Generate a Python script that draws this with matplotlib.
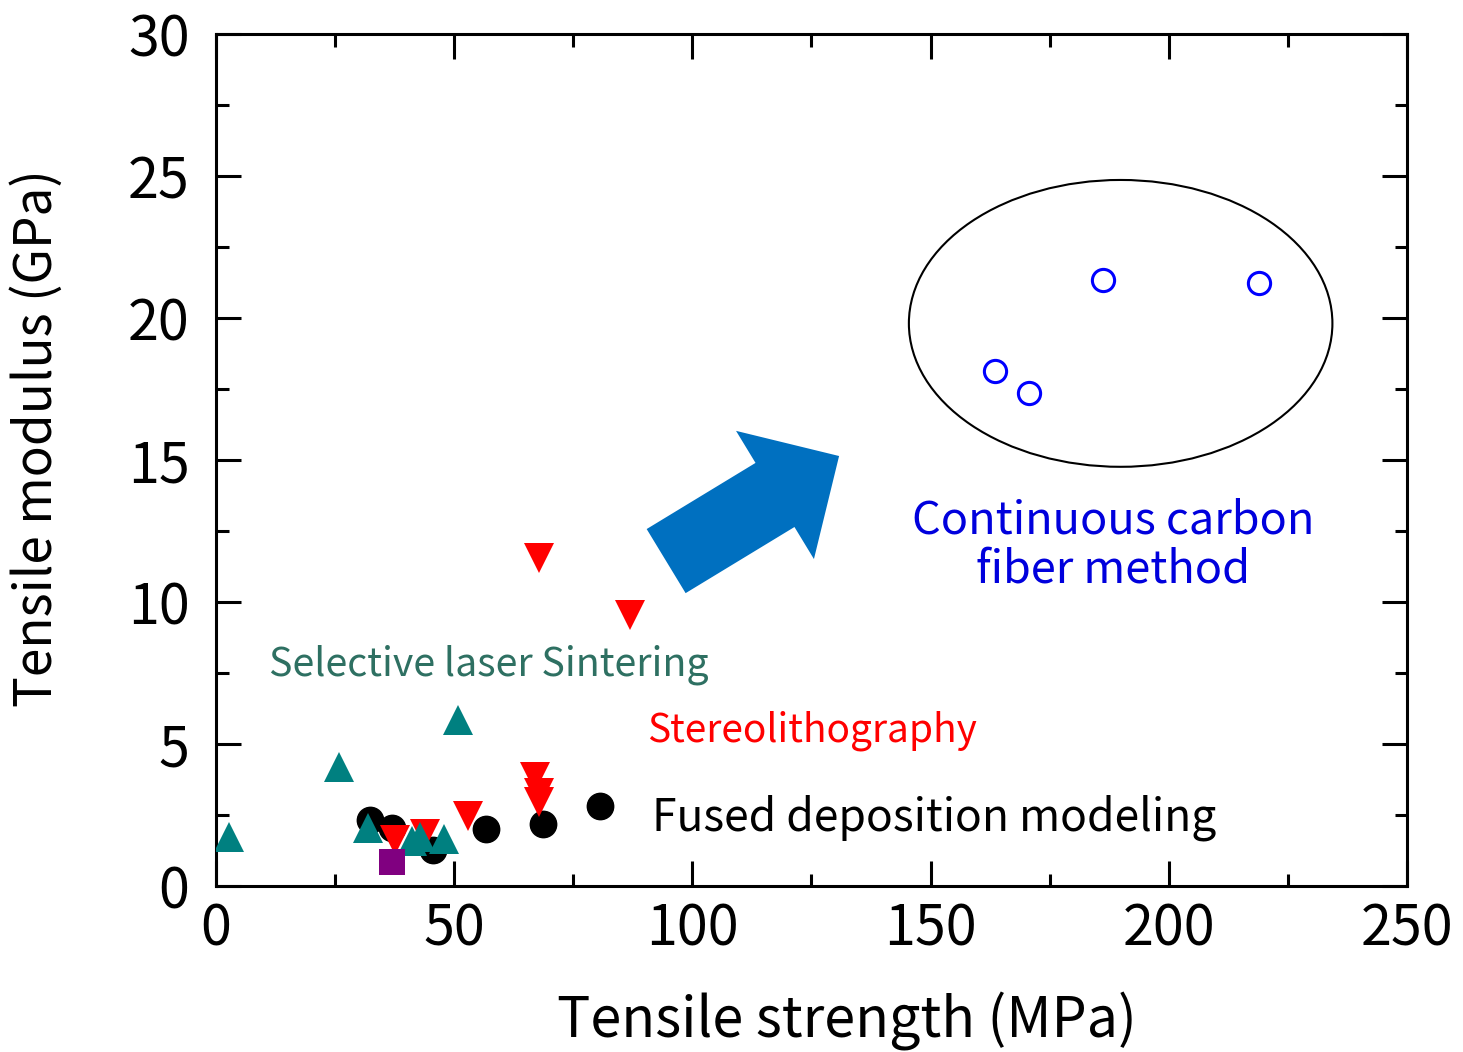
#!/usr/bin/env python
"""Tensile modulus vs tensile strength for 3D-printing processes."""
import matplotlib
matplotlib.use("Agg")
import matplotlib.pyplot as plt
from matplotlib.patches import Ellipse, FancyArrowPatch
from matplotlib.ticker import MultipleLocator

plt.rcParams["font.family"] = ["Noto Sans CJK JP", "DejaVu Sans"]

# Fused deposition modeling (black filled circles)
fdm_x = [32.3, 36.9, 45.6, 56.6, 68.6, 80.6]
fdm_y = [2.32, 2.03, 1.27, 2.00, 2.18, 2.82]

# Stereolithography (red down triangles)
sla_x = [37.6, 43.9, 53.0, 67.0, 67.9, 67.9, 67.9, 86.9]
sla_y = [1.62, 1.83, 2.46, 3.85, 3.26, 2.97, 11.54, 9.53]

# Selective laser sintering (teal up triangles)
sls_x = [2.7, 25.9, 50.9, 32.0, 41.1, 42.8, 47.9]
sls_y = [1.74, 4.20, 5.85, 2.04, 1.60, 1.73, 1.65]

# other (purple square)
other_x = [37.0]
other_y = [0.83]

# Continuous carbon fiber method (blue open circles)
ccf_x = [186.1, 218.9, 163.6, 170.6]
ccf_y = [21.34, 21.24, 18.13, 17.35]

fig = plt.figure(figsize=(14.63, 10.52), dpi=100)
ax = fig.add_axes([0.1476, 0.1578, 0.8141, 0.8099])

ax.plot(fdm_x, fdm_y, "o", color="black", markersize=19, linestyle="none", zorder=3)
ax.plot(sla_x, sla_y, "v", color="#ff0000", markersize=22, markeredgewidth=0,
        linestyle="none", zorder=4)
ax.plot(sls_x, sls_y, "^", color="#008080", markersize=22, markeredgewidth=0,
        linestyle="none", zorder=5)
ax.plot(other_x, other_y, "s", color="#800080", markersize=18.5, markeredgewidth=0,
        linestyle="none", zorder=6)
ax.plot(ccf_x, ccf_y, "o", markerfacecolor="none", markeredgecolor="#0000ff",
        markeredgewidth=2.2, markersize=16, linestyle="none", zorder=6)

ax.add_patch(Ellipse((189.9, 19.81), 88.9, 10.1, fill=False, edgecolor="black",
                     linewidth=1.5, zorder=2))

arrow = FancyArrowPatch((94.5, 11.44), (130.8, 15.14),
                        arrowstyle="simple,head_length=54,head_width=108,tail_width=54",
                        mutation_scale=1, shrinkA=0, shrinkB=0,
                        color="#0070c0", linewidth=0, zorder=2)
ax.add_patch(arrow)

ax.text(57.3, 7.78, "Selective laser Sintering", color="#2e7062", fontsize=28.3,
        ha="center", va="center")
ax.text(90.5, 5.46, "Stereolithography", color="#ff0000", fontsize=28,
        ha="left", va="center")
ax.text(91.5, 2.39, "Fused deposition modeling", color="black", fontsize=32,
        ha="left", va="center")
ax.text(188.3, 12.0, "Continuous carbon\nfiber method", color="#0000dd",
        fontsize=32.5, ha="center", va="center", linespacing=1.1)

ax.set_xlim(0, 250)
ax.set_ylim(0, 30)
ax.xaxis.set_major_locator(MultipleLocator(50))
ax.xaxis.set_minor_locator(MultipleLocator(25))
ax.yaxis.set_major_locator(MultipleLocator(5))
ax.yaxis.set_minor_locator(MultipleLocator(2.5))
ax.tick_params(which="both", direction="in", top=True, right=True, width=2.2,
               labelsize=40, colors="black")
ax.tick_params(which="major", length=18)
ax.tick_params(which="minor", length=9)
ax.tick_params(axis="x", pad=11)
ax.tick_params(axis="y", pad=19)
for sp in ax.spines.values():
    sp.set_linewidth(2.2)

ax.set_xlabel("Tensile strength (MPa)", fontsize=40)
ax.xaxis.set_label_coords(0.53, -0.124)
ax.set_ylabel("Tensile modulus (GPa)", fontsize=37)
ax.yaxis.set_label_coords(-0.128, 0.526)

fig.savefig("out.png", dpi=100)
